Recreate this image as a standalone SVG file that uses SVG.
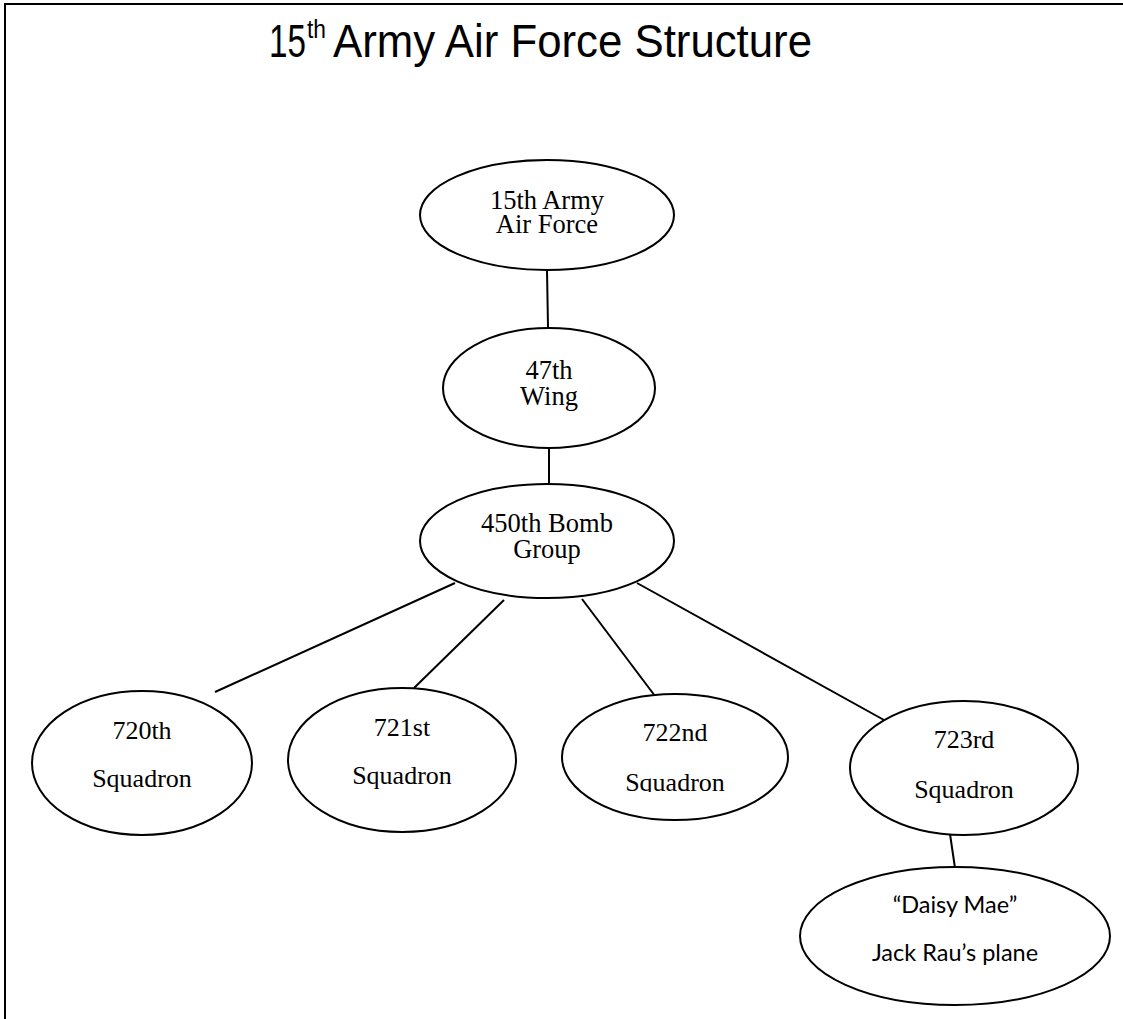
<svg xmlns="http://www.w3.org/2000/svg" width="1123" height="1019" viewBox="0 0 1123 1019">
  <style>
    .node ellipse { fill: #ffffff; stroke: #000000; stroke-width: 2; }
    .t { font-family: "Liberation Serif", "Times New Roman", serif; font-size: 26.5px; fill: #000; text-anchor: middle; }
    .sq { font-family: "Liberation Serif", "Times New Roman", serif; font-size: 26px; fill: #000; text-anchor: middle; }
    .c { font-family: Lato, "Open Sans", "Liberation Sans", sans-serif; font-size: 23.5px; fill: #000; text-anchor: middle; }
    .title { font-family: "Liberation Sans", Arial, sans-serif; font-size: 46px; fill: #000; }
    .sup { font-family: "Liberation Sans", Arial, sans-serif; font-size: 26px; fill: #000; }
    #connectors line { stroke: #000; stroke-width: 2; }
    .border { stroke: #000; stroke-width: 2; fill: none; }
  </style>
  <defs>
    <clipPath id="clip722">
      <rect x="540" y="680" width="270" height="112"/>
    </clipPath>
  </defs>
  <rect width="1123" height="1019" fill="#ffffff"/>
  <g id="border">
    <line class="border" x1="4" y1="4" x2="1123" y2="4"/>
    <line class="border" x1="5" y1="3" x2="5" y2="1019"/>
  </g>
  <g id="title">
    <text class="title" x="269" y="57" textLength="37" lengthAdjust="spacingAndGlyphs">15</text>
    <text class="sup" x="307" y="38" textLength="19" lengthAdjust="spacingAndGlyphs">th</text>
    <text class="title" x="333" y="57" textLength="479" lengthAdjust="spacingAndGlyphs">Army Air Force Structure</text>
  </g>
  <g id="connectors">
    <line x1="547" y1="270" x2="548" y2="327"/>
    <line x1="549" y1="448" x2="549" y2="483"/>
    <line x1="455" y1="583" x2="215" y2="692"/>
    <line x1="504" y1="600" x2="414" y2="688"/>
    <line x1="582" y1="599" x2="655" y2="696"/>
    <line x1="637" y1="583" x2="884" y2="720"/>
    <line x1="950" y1="834" x2="955" y2="868"/>
  </g>
  <g id="n15aaf" class="node">
    <ellipse cx="547" cy="215" rx="127" ry="55"/>
    <text class="t" x="547" y="209">15th Army</text>
    <text class="t" x="547" y="233">Air Force</text>
  </g>
  <g id="n47wing" class="node">
    <ellipse cx="549" cy="388" rx="106" ry="60"/>
    <text class="t" x="549" y="379">47th</text>
    <text class="t" x="549" y="405">Wing</text>
  </g>
  <g id="n450bg" class="node">
    <ellipse cx="547" cy="541" rx="127" ry="57"/>
    <text class="t" x="547" y="532">450th Bomb</text>
    <text class="t" x="547" y="558">Group</text>
  </g>
  <g id="n720" class="node">
    <ellipse cx="142" cy="763" rx="110" ry="72"/>
    <text class="sq" x="142" y="739">720th</text>
    <text class="sq" x="142" y="787">Squadron</text>
  </g>
  <g id="n721" class="node">
    <ellipse cx="402" cy="760" rx="114" ry="72"/>
    <text class="sq" x="402" y="736">721st</text>
    <text class="sq" x="402" y="784">Squadron</text>
  </g>
  <g id="n722" class="node">
    <ellipse cx="675" cy="757" rx="113" ry="63"/>
    <text class="sq" x="675" y="741">722nd</text>
    <text class="sq" x="675" y="791" clip-path="url(#clip722)">Squadron</text>
  </g>
  <g id="n723" class="node">
    <ellipse cx="964" cy="768" rx="114" ry="67"/>
    <text class="sq" x="964" y="748">723rd</text>
    <text class="sq" x="964" y="798">Squadron</text>
  </g>
  <g id="ndaisy" class="node">
    <ellipse cx="955" cy="936" rx="155" ry="69"/>
    <text class="c" x="955" y="913">“Daisy Mae”</text>
    <text class="c" x="955" y="961">Jack Rau’s plane</text>
  </g>
</svg>
